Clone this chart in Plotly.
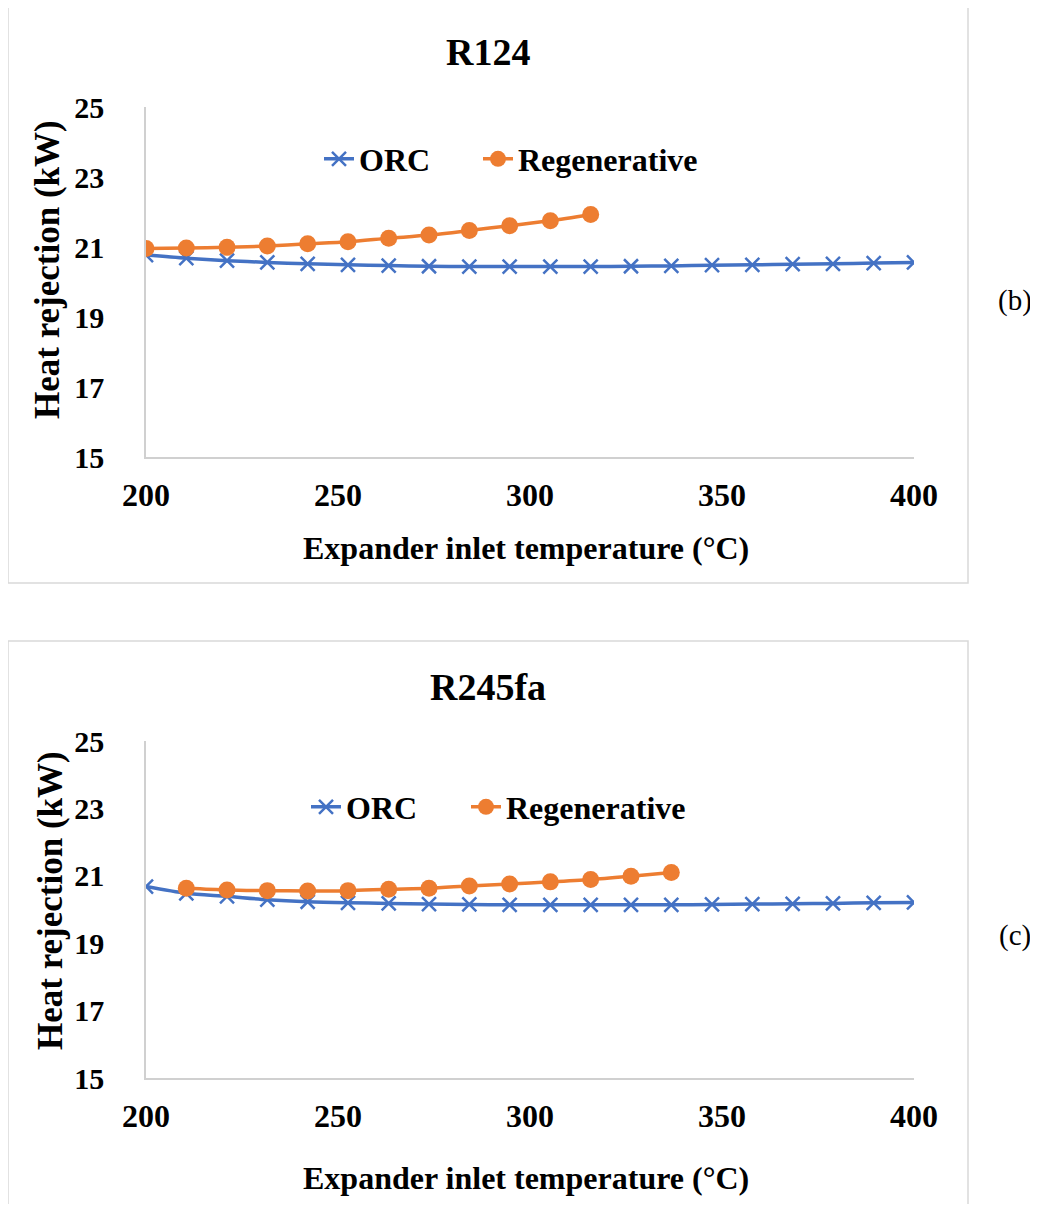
import plotly.graph_objects as go

temps = [200, 210.5, 221.1, 231.6, 242.1, 252.6, 263.2, 273.7, 284.2, 294.7,
         305.3, 315.8, 326.3, 336.8, 347.4, 357.9, 368.4, 378.9, 389.5, 400]

r124_orc = [20.77, 20.68, 20.61, 20.56, 20.52, 20.49, 20.47, 20.45, 20.44, 20.44,
            20.44, 20.44, 20.45, 20.46, 20.48, 20.49, 20.51, 20.52, 20.54, 20.56]
r124_regen_t = temps[0:12]
r124_regen = [20.96, 20.97, 20.99, 21.03, 21.09, 21.15, 21.25, 21.34, 21.47, 21.61, 21.75, 21.93]

r245_orc = [20.68, 20.48, 20.39, 20.29, 20.23, 20.20, 20.18, 20.16, 20.15, 20.14,
            20.14, 20.14, 20.14, 20.14, 20.15, 20.16, 20.17, 20.18, 20.20, 20.21]
r245_regen_t = temps[1:14]
r245_regen = [20.63, 20.58, 20.56, 20.55, 20.56, 20.60, 20.63, 20.70, 20.76, 20.82, 20.89, 20.99, 21.10]

y_ticks = [15, 17, 19, 21, 23, 25]
x_ticks = [200, 250, 300, 350, 400]
titles = ["R124", "R245fa"]
panel_tags = ["(b)", "(c)"]
x_title = "Expander inlet temperature (°C)"
y_title = "Heat rejection (kW)"

# page body has an 8px margin; the figure is placed at (8, 8)
OFF = 8
W, H = 1030, 1196
BLUE = "#4472C4"
ORANGE = "#ED7D31"
FONT = "Liberation Serif"


def px_x(p):
    return (p - OFF) / W


def px_y(p):
    return 1 - (p - OFF) / H


fig = go.Figure()

panels = [
    dict(orc=r124_orc, rt=r124_regen_t, rv=r124_regen, xa="x", ya="y",
         legs=("legend", "legend3"), leg_x=(319, 478),
         top=107, bot=457, box=(8, 7, 968, 583), title_y=52, tag_y=300, leg_y=159,
         xt_y=548, yt_x=48, yt_c=270),
    dict(orc=r245_orc, rt=r245_regen_t, rv=r245_regen, xa="x2", ya="y2",
         legs=("legend2", "legend4"), leg_x=(306, 466),
         top=741, bot=1078, box=(8, 641, 968, 1260), title_y=687, tag_y=935, leg_y=807,
         xt_y=1178, yt_x=50, yt_c=901),
]

for i, p in enumerate(panels):
    fig.add_trace(go.Scatter(
        x=temps, y=p["orc"], name="ORC", mode="lines+markers",
        line=dict(color=BLUE, width=3.5, shape="spline", smoothing=0.8),
        marker=dict(symbol="x-thin", size=14, line=dict(color=BLUE, width=2.5)),
        xaxis=p["xa"], yaxis=p["ya"], legend=p["legs"][0]))
    fig.add_trace(go.Scatter(
        x=p["rt"], y=p["rv"], name="Regenerative", mode="lines+markers",
        line=dict(color=ORANGE, width=3.5, shape="spline", smoothing=0.8),
        marker=dict(symbol="circle", size=17, color=ORANGE),
        xaxis=p["xa"], yaxis=p["ya"], legend=p["legs"][1]))

xtick_font = dict(family=FONT, size=32, color="black", weight="bold")
ytick_font = dict(family=FONT, size=30, color="black", weight="bold")
common_x = dict(range=[200, 400], tickvals=x_ticks, showgrid=False, zeroline=False,
                showline=True, linecolor="#d0d0d0", linewidth=1.5, ticks="",
                tickfont=xtick_font, ticklabelstandoff=9, automargin=False)
common_y = dict(range=[15, 25], tickvals=y_ticks, showgrid=False, zeroline=False,
                showline=True, linecolor="#d0d0d0", linewidth=1.5, ticks="",
                tickfont=ytick_font, ticklabelstandoff=34, automargin=False)

xdom = [px_x(146), px_x(914)]
p0, p1 = panels
fig.update_layout(
    xaxis=dict(domain=xdom, anchor="y", **common_x),
    yaxis=dict(domain=[px_y(p0["bot"]), px_y(p0["top"])], anchor="x", **common_y),
    xaxis2=dict(domain=xdom, anchor="y2", **common_x),
    yaxis2=dict(domain=[px_y(p1["bot"]), px_y(p1["top"])], anchor="x2", **common_y),
)

leg_common = dict(orientation="h", xanchor="left", yanchor="middle",
                  font=dict(family=FONT, size=32, color="black", weight="bold"),
                  bgcolor="rgba(0,0,0,0)", borderwidth=0, itemclick=False)
fig.update_layout(
    legend=dict(x=px_x(p0["leg_x"][0]), y=px_y(p0["leg_y"]), **leg_common),
    legend3=dict(x=px_x(p0["leg_x"][1]), y=px_y(p0["leg_y"]), **leg_common),
    legend2=dict(x=px_x(p1["leg_x"][0]), y=px_y(p1["leg_y"]), **leg_common),
    legend4=dict(x=px_x(p1["leg_x"][1]), y=px_y(p1["leg_y"]), **leg_common),
)

shapes = []
annotations = []
for i, p in enumerate(panels):
    x0, y0, x1, y1 = p["box"]
    shapes.append(dict(type="rect", xref="paper", yref="paper",
                       x0=px_x(x0), x1=px_x(x1), y0=px_y(y1), y1=px_y(y0),
                       line=dict(color="#d9d9d9", width=1.5), layer="below"))
    annotations.append(dict(text=titles[i], xref="paper", yref="paper",
                            x=px_x(488), y=px_y(p["title_y"]), showarrow=False,
                            xanchor="center", yanchor="middle",
                            font=dict(family=FONT, size=38, color="black", weight="bold")))
    annotations.append(dict(text=panel_tags[i], xref="paper", yref="paper",
                            x=px_x(1015), y=px_y(p["tag_y"]), showarrow=False,
                            xanchor="center", yanchor="middle",
                            font=dict(family=FONT, size=29, color="black")))
    annotations.append(dict(text=x_title, xref="paper", yref="paper",
                            x=px_x(526), y=px_y(p["xt_y"]), showarrow=False,
                            xanchor="center", yanchor="middle",
                            font=dict(family=FONT, size=32, color="black", weight="bold")))
    annotations.append(dict(text=y_title, xref="paper", yref="paper", textangle=-90,
                            x=px_x(p["yt_x"]), y=px_y(p["yt_c"]),
                            showarrow=False, xanchor="center", yanchor="middle",
                            font=dict(family=FONT, size=35, color="black", weight="bold")))

fig.update_layout(
    width=W, height=H, margin=dict(l=0, r=0, t=0, b=0),
    paper_bgcolor="white", plot_bgcolor="white",
    shapes=shapes, annotations=annotations, showlegend=True,
)

fig.write_html("out.html")
